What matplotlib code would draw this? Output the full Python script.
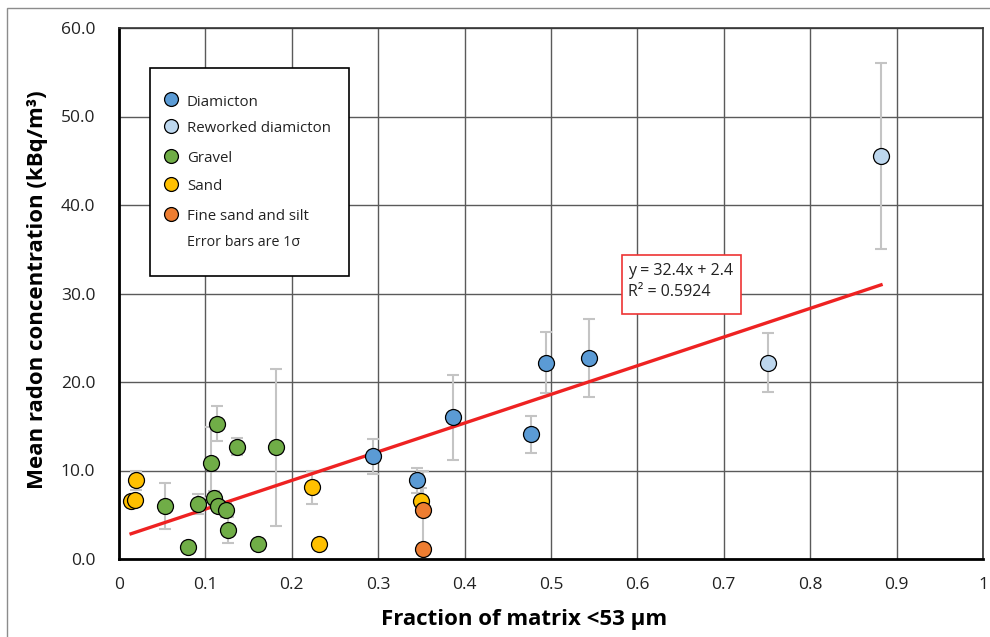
import numpy as np
import matplotlib
matplotlib.use("Agg")
import matplotlib.pyplot as plt
from matplotlib.patches import Rectangle

plt.rcParams['font.family'] = ['Open Sans', 'DejaVu Sans']

## Data: fraction <53 um, mean radon (kBq/m3), 1 sigma
diam_x = [0.294, 0.345, 0.387, 0.477, 0.494, 0.544]
diam_y = [11.6, 8.9, 16.0, 14.1, 22.2, 22.7]
diam_e = [2.0, 1.4, 4.8, 2.1, 3.4, 4.4]

rew_x = [0.751, 0.882]
rew_y = [22.2, 45.5]
rew_e = [3.3, 10.5]

grav_x = [0.053, 0.080, 0.092, 0.106, 0.110, 0.113, 0.115, 0.124, 0.126, 0.137, 0.161, 0.182]
grav_y = [6.0, 1.4, 6.2, 10.9, 6.9, 15.3, 6.0, 5.5, 3.3, 12.7, 1.7, 12.6]
grav_e = [2.6, 0.3, 1.1, 4.0, 0.8, 2.0, 0.6, 0.8, 1.5, 1.0, 0.2, 8.9]

sand_x = [0.014, 0.019, 0.020, 0.223, 0.231, 0.350]
sand_y = [6.6, 6.7, 8.9, 8.1, 1.7, 6.6]
sand_e = [0.3, 0.3, 1.1, 1.9, 0.2, 1.4]

fine_x = [0.352, 0.352]
fine_y = [5.5, 1.1]
fine_e = [4.4, 0.2]

slope = 32.4
icept = 2.4
r2 = 0.5924

xticks = [0, 0.1, 0.2, 0.3, 0.4, 0.5, 0.6, 0.7, 0.8, 0.9, 1]
xtick_labels = ["0", "0.1", "0.2", "0.3", "0.4", "0.5", "0.6", "0.7", "0.8", "0.9", "1"]
yticks = [0, 10, 20, 30, 40, 50, 60]

groups = [
    ("Diamicton", diam_x, diam_y, diam_e, "#5B9BD5"),
    ("Reworked diamicton", rew_x, rew_y, rew_e, "#BDD7EE"),
    ("Gravel", grav_x, grav_y, grav_e, "#70AD47"),
    ("Sand", sand_x, sand_y, sand_e, "#FFC000"),
    ("Fine sand and silt", fine_x, fine_y, fine_e, "#ED7D31"),
]

fig = plt.figure(figsize=(9.9, 6.37), dpi=100)
ax = fig.add_axes([119/990, 78/637, 864/990, 531/637])

# outer chart border
fig.patches.append(Rectangle((7/990, -0.05), 1.2, 1 - 8/637 + 0.05, transform=fig.transFigure,
                             fill=False, edgecolor="#8c8c8c", linewidth=1.0))

ax.set_xlim(0, 1)
ax.set_ylim(0, 60)
ax.set_xticks(xticks)
ax.set_xticklabels(xtick_labels)
ax.set_yticks(yticks)
ax.set_yticklabels(["%.1f" % v for v in yticks])
ax.tick_params(length=0, labelsize=12.5, colors="#222222")
ax.tick_params(axis='x', pad=13)
ax.tick_params(axis='y', pad=17)
ax.grid(True, color="#5a5a5a", linewidth=1.0)
ax.set_axisbelow(True)
for s in ["left", "bottom"]:
    ax.spines[s].set_linewidth(2.0)
    ax.spines[s].set_color("black")
for s in ["top", "right"]:
    ax.spines[s].set_linewidth(1.2)
    ax.spines[s].set_color("#333333")

for name, xs, ys, es, col in groups:
    ax.errorbar(xs, ys, yerr=es, fmt="none", ecolor="#c4c4c4", elinewidth=1.5,
                capsize=4, capthick=1.5, zorder=2)

allx = []
for name, xs, ys, es, col in groups:
    ax.plot(xs, ys, "o", ms=11.5, mfc=col, mec="black", mew=0.9, zorder=4)
    allx += xs

# linear trendline
tx = np.array([min(allx), max(allx)])
ax.plot(tx, slope*tx + icept, color="#EE2222", lw=2.4, zorder=3)

# trendline label box
ax.add_patch(Rectangle(((622-119)/864, (559-314)/531), 119/864, 59/531, transform=ax.transAxes,
                       facecolor="white", edgecolor="#EE3333", lw=1.2, zorder=5))
ax.text((628-119)/864, (559-271)/531, "y = %.1fx + %.1f" % (slope, icept), transform=ax.transAxes,
        fontsize=11.5, va="center", ha="left", zorder=6, color="#222222")
ax.text((628-119)/864, (559-292)/531, "R² = %.4f" % r2, transform=ax.transAxes,
        fontsize=11.5, va="center", ha="left", zorder=6, color="#222222")

# legend box drawn by hand
ax.add_patch(Rectangle(((150-119)/864, (559-276)/531), 199/864, 208/531, transform=ax.transAxes,
                       facecolor="white", edgecolor="black", lw=1.2, zorder=5))
rows = [99, 126, 156, 184, 214]
for (name, xs, ys, es, col), ry in zip(groups, rows):
    ax.plot([(171-119)/864], [(559-ry)/531], "o", ms=10, mfc=col, mec="black", mew=0.9,
            transform=ax.transAxes, zorder=6, clip_on=False)
    ax.text((187-119)/864, (559-ry-3)/531, name, transform=ax.transAxes, fontsize=10.8,
            va="center", ha="left", zorder=6, color="#222222")
ax.text((187-119)/864, (559-242)/531, "Error bars are 1σ", transform=ax.transAxes, fontsize=10.3,
        va="center", ha="left", zorder=6, color="#222222")

ax.set_xlabel("Fraction of matrix <53 µm", fontsize=16, fontweight="bold")
ax.xaxis.set_label_coords((524-119)/864, (559-620)/531)
ax.xaxis.label.set_va("center")
ax.set_ylabel("Mean radon concentration (kBq/m³)", fontsize=16, fontweight="bold")
ax.yaxis.set_label_coords((38-119)/864, (559-290)/531)
ax.yaxis.label.set_va("center")

fig.savefig("out.png", dpi=100)
